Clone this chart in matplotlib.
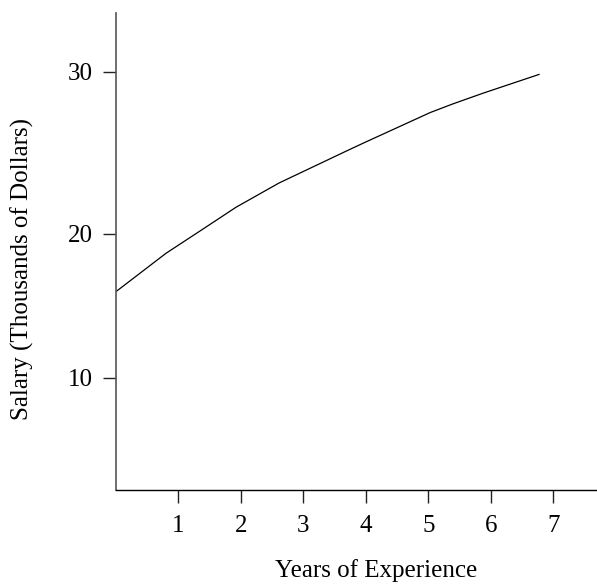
import numpy as np
import matplotlib
matplotlib.use("Agg")
import matplotlib.pyplot as plt

# Data
years = [0.0, 0.8, 1.35, 1.92, 2.61, 3.73, 3.98, 5.03, 5.39, 5.88, 6.77]
salary = [16.0, 18.66, 20.2, 21.65, 23.15, 25.2, 25.65, 27.5, 28.03, 28.7, 29.85]
x_ticks = [1, 2, 3, 4, 5, 6, 7]
y_ticks = [10, 20, 30]
x_label = "Years of Experience"
y_label = "Salary (Thousands of Dollars)"

plt.rcParams['font.family'] = ['Liberation Serif', 'DejaVu Serif']

fig = plt.figure(figsize=(5.97, 5.85), dpi=100)
ax = fig.add_axes([116 / 597, 95 / 585, 481 / 597, 477 / 585])


# The reference's vertical axis is drawn with slightly uneven spacing
def fwd(v):
    v = np.asarray(v, dtype=float)
    return np.where(v < 20, (v - 10) * 14.4, 144 + (v - 20) * 16.2)


def inv(p):
    p = np.asarray(p, dtype=float)
    return np.where(p < 144, 10 + p / 14.4, 20 + (p - 144) / 16.2)


ax.set_yscale('function', functions=(fwd, inv))

ax.plot(years, salary, color='black', linewidth=0.9, solid_joinstyle='round')

ax.set_xlim(0, 481 / 62.49)
ax.set_ylim(10 - 112 / 14.4, 30 + 59 / 16.2)
ax.set_xticks(x_ticks)
ax.set_xticklabels([str(t) for t in x_ticks])
ax.set_yticks(y_ticks)
ax.set_yticklabels([str(t) for t in y_ticks])
ax.minorticks_off()

for s in ['top', 'right']:
    ax.spines[s].set_visible(False)
ax.spines['left'].set_color('#555555')
ax.spines['left'].set_linewidth(1.2)
ax.spines['bottom'].set_color('black')
ax.spines['bottom'].set_linewidth(1.0)

ax.tick_params(axis='x', direction='out', length=9.4, width=1.0, pad=8.4,
               labelsize=18, color='#222222')
ax.tick_params(axis='y', direction='out', length=9.4, width=1.0, pad=7.2,
               labelsize=18, color='#222222')

fig.text(376 / 597, 8 / 585, x_label, ha='center', va='baseline', fontsize=18)
fig.text(22 / 597, (585 - 269) / 585, y_label, ha='center', va='center',
         rotation=90, fontsize=18)

fig.savefig('out.png', dpi=100)
